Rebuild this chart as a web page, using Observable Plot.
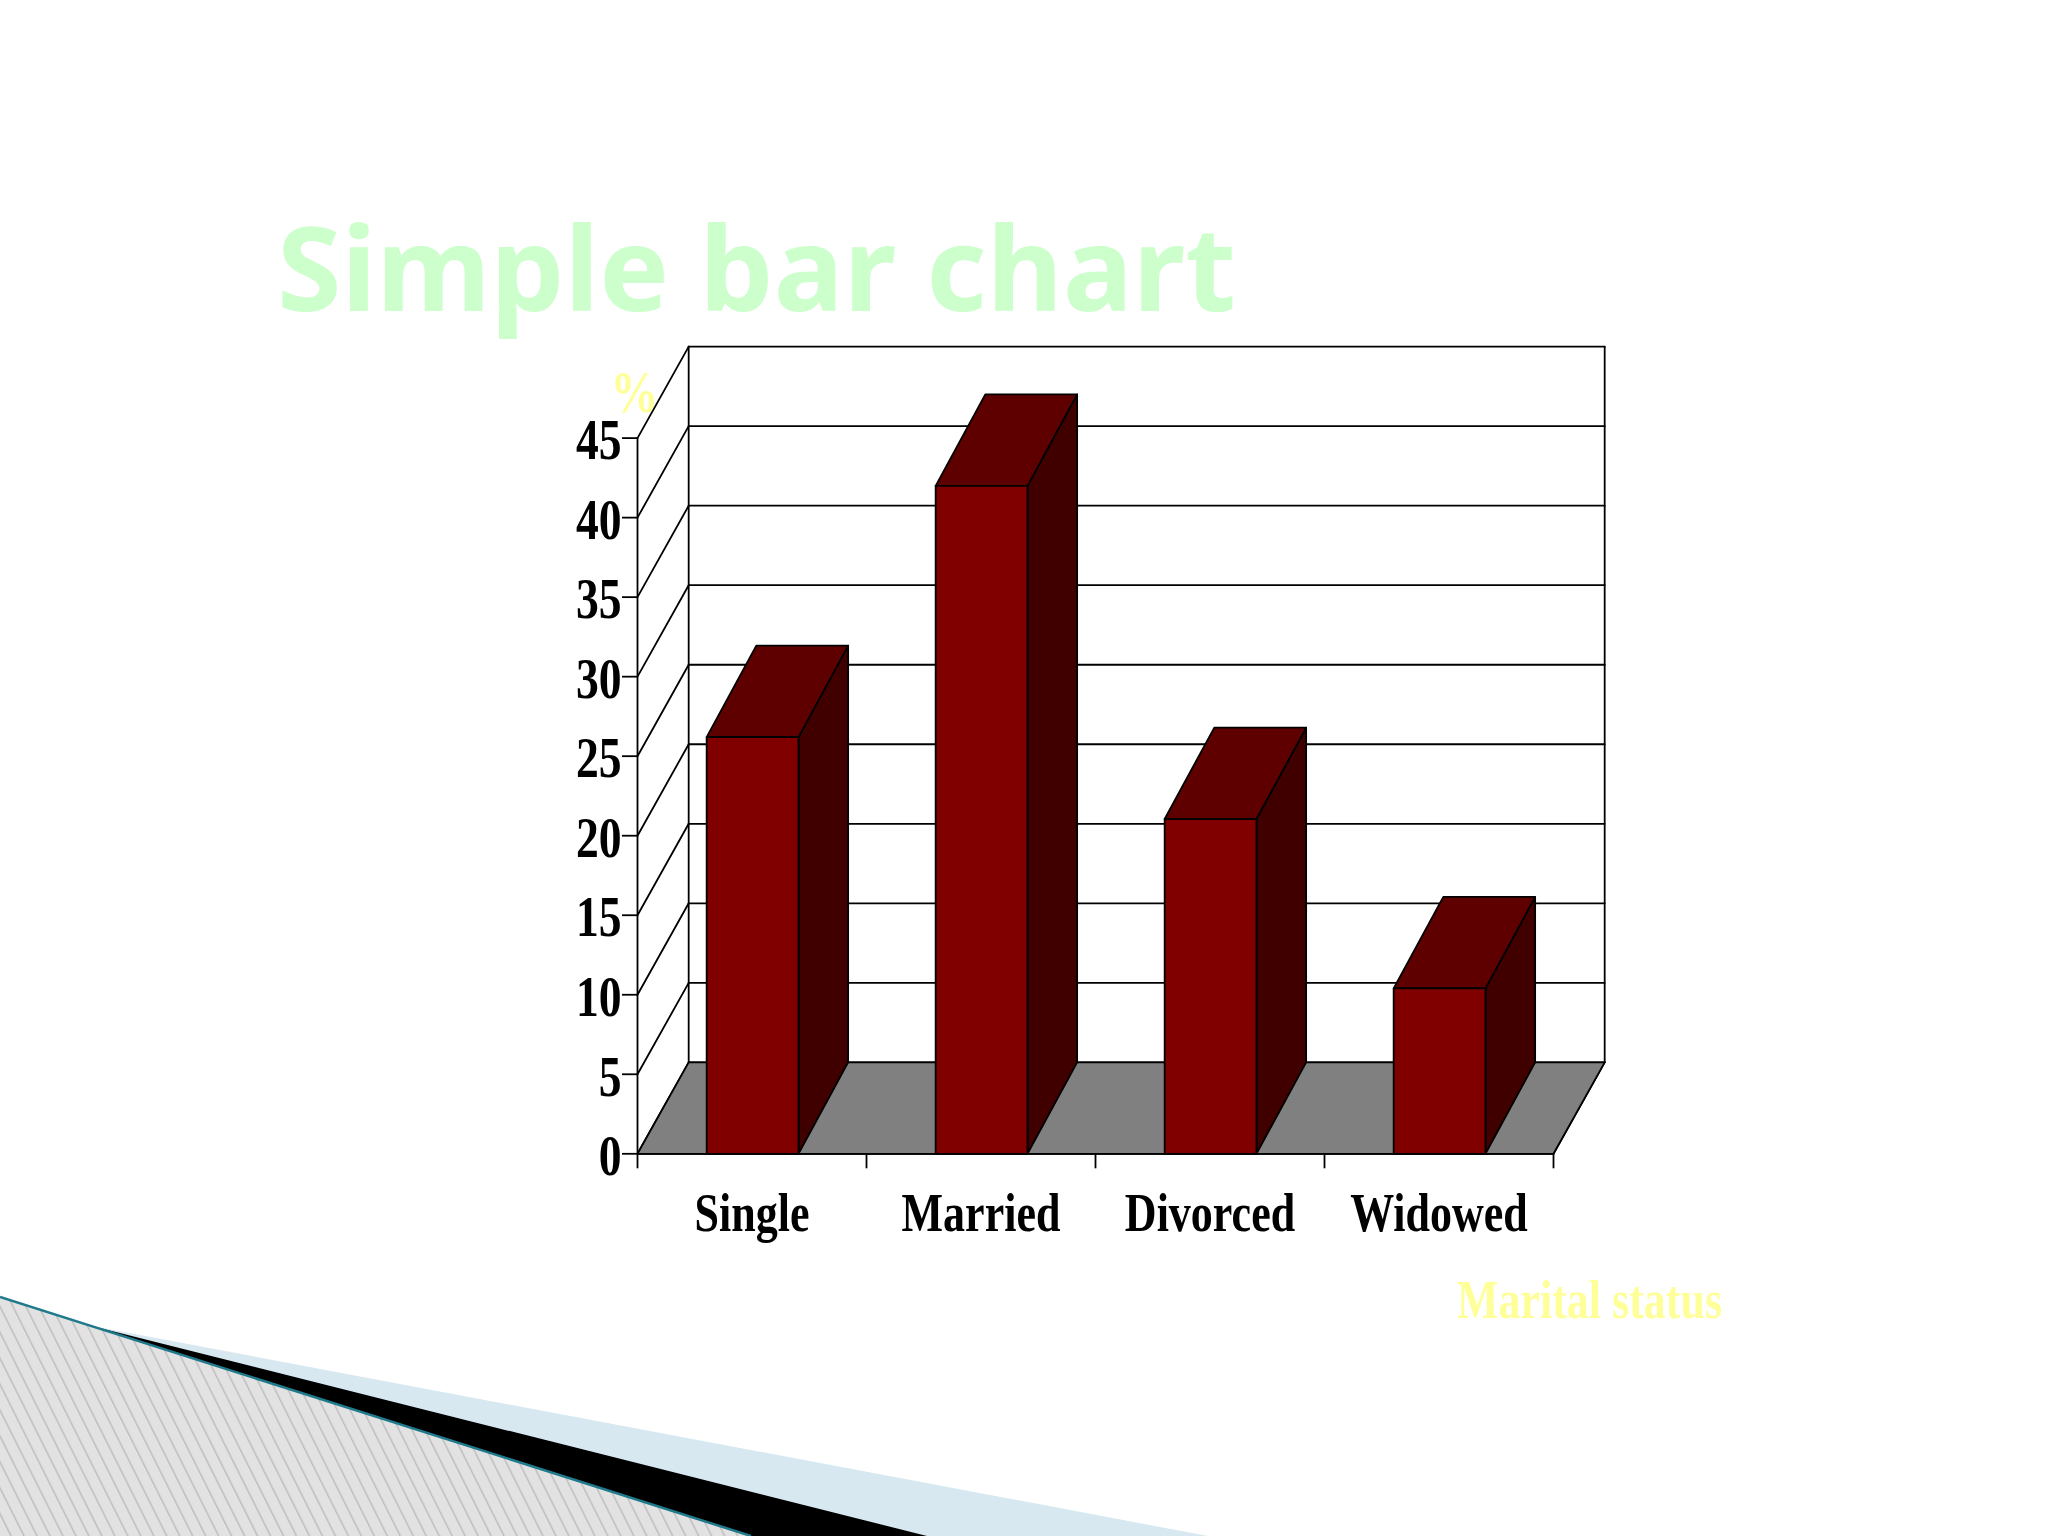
<!DOCTYPE html>
<html><head><meta charset="utf-8">
<script src="https://cdn.jsdelivr.net/npm/d3@7"></script>
<script src="https://cdn.jsdelivr.net/npm/@observablehq/plot@0.6"></script>
<style>
html,body{margin:0;padding:0;background:#fff;width:2048px;height:1536px;overflow:hidden}
#bg{position:absolute;left:0;top:0}
#chart{position:absolute;left:0;top:0}
#title{position:absolute;left:277px;top:186px;margin:0;font:700 117px "Noto Sans",sans-serif;color:#ccffcc;line-height:1.36;white-space:nowrap}
</style></head><body>
<svg id="bg" width="2048" height="1536" xmlns="http://www.w3.org/2000/svg">
<defs><pattern id="hatch" patternUnits="userSpaceOnUse" width="11.6" height="11.6" patternTransform="rotate(63.4)">
<rect width="11.6" height="11.6" fill="#e2e2e2"/><line x1="0" x2="11.6" y1="5" y2="5" stroke="#a6a6a6" stroke-width="0.9"/></pattern></defs>
<polygon points="92,1326 1208,1536 751,1536" fill="#d8e8f0"/>
<polygon points="92,1326 927,1536 751,1536" fill="#000"/>
<polygon points="0,1297 751,1536 0,1536" fill="url(#hatch)"/>
<line x1="0" y1="1297" x2="751" y2="1536" stroke="#1f7a8c" stroke-width="2.5"/>
</svg>
<h1 id="title">Simple bar chart</h1>
<div id="chart"></div>
<script>
const categories = ["Single","Married","Divorced","Widowed"];
const values = [26.2, 42, 21.05, 10.4];
const valueTicks = [0,5,10,15,20,25,30,35,40,45];
const bandTicks = [0,1,2,3,4];
const depthX = 0.2235, depthY = 5.75;   // oblique projection offset, in scale units
const barDepthX = 0.97, barDepthY = 1.0;
const barStart = 0.302, barEnd = 0.703;
const yMax = 45;

const pt = (x,v,d=0,e=d)=>({x:x+d*depthX, y:v+e*depthY});
const poly = (id,...pts)=>[...pts,pts[0]].map(p=>({...p,id}));

const floor = poly("floor",pt(0,0),pt(4,0),pt(4,0,1),pt(0,0,1));
const sideGrid = valueTicks.map(v=>[pt(0,v),pt(0,v,1)].map(p=>({...p,id:"s"+v}))).flat();
const backGrid = valueTicks.map(v=>[pt(0,v,1),pt(4,v,1)].map(p=>({...p,id:"b"+v}))).flat();
const edges = [
  [pt(0,0,1),pt(0,yMax,1)],
  [pt(4,0,1),pt(4,yMax,1)],
  [pt(4,0),pt(4,0,1)]
].map((seg,i)=>seg.map(p=>({...p,id:"e"+i}))).flat();

const fronts=[],tops=[],sides=[];
values.forEach((v,i)=>{
  const a=i+barStart,b=i+barEnd,d=barDepthX,e=barDepthY;
  fronts.push(...poly("f"+i,pt(a,0),pt(b,0),pt(b,v),pt(a,v)));
  tops.push(...poly("t"+i,pt(a,v),pt(b,v),pt(b,v,d,e),pt(a,v,d,e)));
  sides.push(...poly("s"+i,pt(b,0),pt(b,0,d,e),pt(b,v,d,e),pt(b,v)));
});
const lw=1.8;
const shape=(data,fill)=>Plot.line(data,{x:"x",y:"y",z:"id",fill,stroke:"#000",strokeWidth:lw,strokeLinejoin:"round",curve:"linear"});
const wire=(data)=>Plot.line(data,{x:"x",y:"y",z:"id",stroke:"#000",strokeWidth:lw,curve:"linear"});

const serif='"Liberation Serif",serif';
const plot = Plot.plot({
  width:2048,height:1536,
  marginLeft:637,marginRight:2048-1553,marginTop:437.6,marginBottom:1536-1153.3,
  style:{background:"transparent",overflow:"visible"},
  x:{domain:[0,4],label:null},
  y:{domain:[0,yMax],label:null},
  marks:[
    wire(sideGrid),wire(backGrid),wire(edges),
    shape(floor,"#808080"),
    Plot.ruleX([0],{y1:0,y2:yMax,stroke:"#000",strokeWidth:lw}),
    Plot.ruleY([0],{stroke:"#000",strokeWidth:lw}),
    shape(sides,"#400000"),shape(tops,"#5e0000"),shape(fronts,"#800000"),
    Plot.axisY({ticks:valueTicks,tickSize:15,tickPadding:1,label:null,stroke:"#000",strokeWidth:lw,fontSize:57,fontWeight:"bold",fontFamily:serif,fill:"#000",className:"narrow",render:(i,s,v,d,c,n)=>{const g=n(i,s,v,d,c);g.querySelectorAll("text").forEach(t=>t.setAttribute("dy",String(+(t.getAttribute("dy")||0)+3)));return g;}}),
    Plot.axisX({ticks:bandTicks,tickSize:15,tickFormat:()=>"",label:null,stroke:"#000",strokeWidth:lw}),
    Plot.text(categories,{x:(d,i)=>i+0.5,y:()=>0,text:d=>d,dy:60,fontSize:55,fontWeight:"bold",fontFamily:serif,fill:"#000",className:"narrow"}),
    Plot.text(["%"],{x:()=>0,y:()=>yMax,text:d=>d,dx:-3,dy:-45,fontSize:60,fontWeight:"bold",fontFamily:serif,fill:"#ffff99",className:"narrow"}),
    Plot.text(["Marital status"],{x:()=>4,y:()=>0,text:d=>d,dx:36,dy:147,fontSize:55,fontWeight:"bold",fontFamily:serif,fill:"#ffff99",className:"narrow"})
  ]
});
document.getElementById("chart").appendChild(plot);
plot.querySelectorAll(".narrow text").forEach(t=>{
  const L=t.getComputedTextLength();
  t.setAttribute("textLength",L*0.8);
  t.setAttribute("lengthAdjust","spacingAndGlyphs");
});
</script>
</body></html>
